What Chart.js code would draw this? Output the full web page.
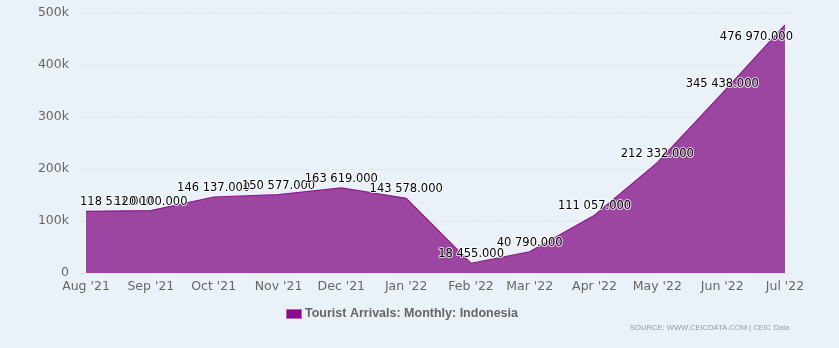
<!DOCTYPE html>
<html>
<head>
<meta charset="utf-8">
<title>Tourist Arrivals: Monthly: Indonesia</title>
<script src="https://cdn.jsdelivr.net/npm/chart.js@4.4.1/dist/chart.umd.min.js"></script>
<style>
  html, body { margin: 0; padding: 0; background: #eaf1f8; }
  #wrap { width: 839px; height: 348px; position: relative; }
</style>
</head>
<body>
<div id="wrap"><canvas id="arrivals" width="839" height="348"></canvas></div>
<script>
// monthly observations, first day of each month
const months = ['2021-08-01', '2021-09-01', '2021-10-01', '2021-11-01', '2021-12-01', '2022-01-01',
                '2022-02-01', '2022-03-01', '2022-04-01', '2022-05-01', '2022-06-01', '2022-07-01'];
const arrivals = [118531, 120100, 146137, 150577, 163619, 143578,
                  18455, 40790, 111057, 212332, 345438, 476970];
const yTicks = [0, 100000, 200000, 300000, 400000, 500000];
const seriesName = 'Tourist Arrivals: Monthly: Indonesia';
const sourceText = 'SOURCE: WWW.CEICDATA.COM | CEIC Data';

const DAY = 86400000;
const start = Date.parse(months[0]);
const dayOf = d => Math.round((Date.parse(d) - start) / DAY);
const monthNames = ['Jan', 'Feb', 'Mar', 'Apr', 'May', 'Jun', 'Jul', 'Aug', 'Sep', 'Oct', 'Nov', 'Dec'];
const monthLabel = d => {
    const dt = new Date(d + 'T00:00:00Z');
    return monthNames[dt.getUTCMonth()] + " '" + String(dt.getUTCFullYear()).slice(2);
};
const points = months.map((m, i) => ({ x: dayOf(m), y: arrivals[i] }));

const fmtValue = v => {
    const s = String(Math.round(v));
    return s.replace(/\B(?=(\d{3})+(?!\d))/g, ' ') + '.000';
};

// dashed horizontal guides that run a little past the plot edges
const gridPlugin = {
    id: 'gridGuides',
    beforeDatasetsDraw(chart) {
        const { ctx, chartArea, scales } = chart;
        ctx.save();
        ctx.strokeStyle = '#dde2e8';
        ctx.lineWidth = 1;
        ctx.setLineDash([6, 3]);
        yTicks.forEach(t => {
            const y = Math.round(scales.y.getPixelForValue(t)) + 0.5;
            ctx.beginPath();
            ctx.moveTo(chartArea.left - 6, y);
            ctx.lineTo(chartArea.right + 8, y);
            ctx.stroke();
        });
        ctx.restore();
    }
};

// value labels above each point, kept inside the plot band
// (a label with no room above its point drops below it)
const labelPlugin = {
    id: 'valueLabels',
    afterDatasetsDraw(chart) {
        const { ctx, chartArea } = chart;
        const meta = chart.getDatasetMeta(0);
        ctx.save();
        ctx.font = '11.5px "DejaVu Sans", sans-serif';
        ctx.textAlign = 'center';
        ctx.textBaseline = 'alphabetic';
        ctx.lineJoin = 'round';
        meta.data.forEach((pt, i) => {
            const text = fmtValue(arrivals[i]);
            const w = ctx.measureText(text).width;
            let x = pt.x;
            x = Math.min(x, chartArea.right + 8 - w / 2);
            x = Math.max(x, chartArea.left - 6 + w / 2);
            let y = pt.y - 6;
            if (y - 14 < chartArea.top) y = pt.y + 15;
            ctx.strokeStyle = 'rgba(255,255,255,0.75)';
            ctx.lineWidth = 2;
            ctx.strokeText(text, x, y);
            ctx.fillStyle = '#000';
            ctx.fillText(text, x, y);
        });
        ctx.restore();
    }
};

// legend swatch and source note under the axis
const footerPlugin = {
    id: 'footer',
    afterDraw(chart) {
        const { ctx } = chart;
        ctx.save();
        ctx.fillStyle = '#8b0a8b';
        ctx.fillRect(287, 310, 14, 8);
        ctx.strokeStyle = '#b867b8';
        ctx.lineWidth = 1;
        ctx.strokeRect(286.5, 309.5, 15, 9);
        ctx.font = 'bold 12.5px "Liberation Sans", sans-serif';
        ctx.fillStyle = '#666';
        ctx.textAlign = 'left';
        ctx.textBaseline = 'middle';
        ctx.fillText(seriesName, 305, 314, 217);
        ctx.font = '7.6px "Liberation Sans", sans-serif';
        ctx.fillStyle = '#999';
        ctx.fillText(sourceText, 630, 327.5, 163);
        ctx.restore();
    }
};

new Chart(document.getElementById('arrivals'), {
    type: 'line',
    data: {
        datasets: [{
            label: seriesName,
            data: points,
            borderColor: '#8b1a8c',
            borderWidth: 1.2,
            backgroundColor: 'rgba(152, 60, 157, 0.95)',
            fill: 'origin',
            tension: 0,
            pointRadius: 0,
            pointHoverRadius: 0
        }]
    },
    options: {
        responsive: false,
        animation: false,
        events: [],
        layout: { padding: { left: 0, right: 54, top: 13, bottom: 53 } },
        plugins: {
            legend: { display: false },
            tooltip: { enabled: false }
        },
        scales: {
            x: {
                type: 'linear',
                min: 0,
                max: dayOf(months[months.length - 1]),
                afterBuildTicks: scale => {
                    scale.ticks = months.map(m => ({ value: dayOf(m) }));
                },
                afterFit: scale => {
                    scale.height = 22;
                    scale.paddingLeft = 0;
                    scale.paddingRight = 0;
                },
                grid: { display: false, drawTicks: false },
                border: { display: false },
                ticks: {
                    autoSkip: false,
                    maxRotation: 0,
                    padding: 6,
                    color: '#666',
                    font: { family: '"DejaVu Sans", sans-serif', size: 12.5 },
                    callback: (v, i) => monthLabel(months[i])
                }
            },
            y: {
                min: 0,
                max: 500000,
                afterBuildTicks: scale => {
                    scale.ticks = yTicks.map(v => ({ value: v }));
                },
                afterFit: scale => {
                    scale.width = 86;
                    scale.paddingTop = 0;
                    scale.paddingBottom = 0;
                },
                grid: { display: false, drawTicks: false },
                border: { display: false },
                ticks: {
                    padding: 17,
                    color: '#666',
                    font: { family: '"DejaVu Sans", sans-serif', size: 12.5 },
                    callback: v => v === 0 ? '0' : (v / 1000) + 'k'
                }
            }
        }
    },
    plugins: [gridPlugin, labelPlugin, footerPlugin]
});
</script>
</body>
</html>
